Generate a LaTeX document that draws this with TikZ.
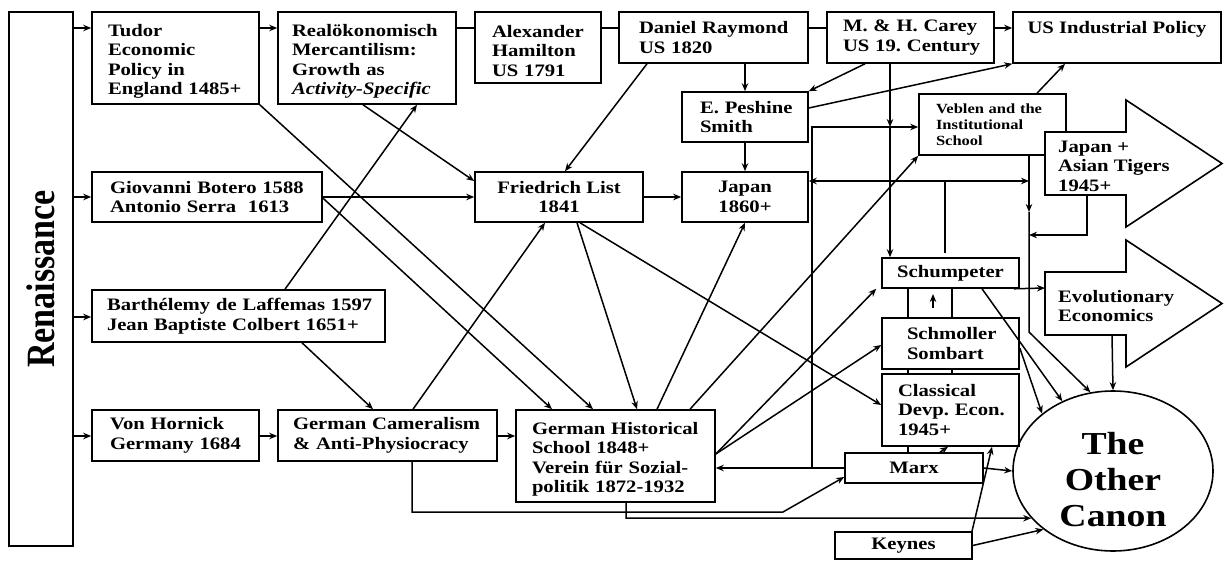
\documentclass[tikz,border=0pt]{standalone}
\usepackage{fontspec}
\setmainfont{Liberation Serif}[FakeStretch=1.18]
\newfontfamily\renfont{Liberation Serif}
\usetikzlibrary{arrows.meta,shapes.geometric}
\newcommand{\bxfont}{\fontsize{17.5}{19.5}\selectfont\bfseries\frenchspacing}
\newcommand{\vbfont}{\fontsize{14}{16}\selectfont\bfseries\frenchspacing}
\newcommand{\fl}{\rule{0pt}{19pt}}
\hyphenpenalty=10000
\exhyphenpenalty=10000
\frenchspacing
\begin{document}
\begin{tikzpicture}[x=1pt,y=-1pt,
  box/.style={draw, line width=1.6pt, fill=white, inner sep=0pt, font=\bxfont},
  lbox/.style={box, align=left},
  cbox/.style={box, align=center},
  arr/.style={line width=1.5pt, -{Stealth[length=8pt,width=6.5pt]}},
  ln/.style={line width=1.5pt},
  darr/.style={line width=1.5pt, {Stealth[length=8pt,width=6.5pt]}-{Stealth[length=8pt,width=6.5pt]}},
  blk/.style={draw, line width=1.6pt, fill=white},
  btxt/.style={font=\bxfont, align=left, inner sep=0pt, anchor=west}
]
\useasboundingbox (0,0) rectangle (1224,561);
\fill[white] (0,0) rectangle (1224,561);

% boxes
\node[box, minimum width=64pt, minimum height=534pt] (ren) at (41,279)
  {\rotatebox{90}{\scalebox{1}[1.18]{\renfont\bfseries\fontsize{34}{34}\selectfont Renaissance}}};
\node[lbox, minimum width=167pt, minimum height=92pt, text width=135pt] (tudor) at (175.5,58)
  {\mbox{\fl Tudor}\\\mbox{Economic}\\\mbox{Policy in}\\\mbox{England 1485+}};
\node[lbox, minimum width=178pt, minimum height=92pt, text width=150pt] (realok) at (367,58)
  {\mbox{\fl Realökonomisch}\\\mbox{Mercantilism:}\\\mbox{Growth as}\\\mbox{\textit{Activity-Specific}}};
\node[lbox, minimum width=126pt, minimum height=71pt, text width=92pt] (hamilton) at (538,47.5)
  {\mbox{\fl Alexander}\\\mbox{Hamilton}\\\mbox{US 1791}};
\node[lbox, minimum width=189pt, minimum height=51pt, text width=149pt] (daniel) at (713.5,37.5)
  {\mbox{Daniel Raymond}\\\mbox{US 1820}};
\node[lbox, minimum width=167pt, minimum height=51pt, text width=135pt] (carey) at (910.5,37.5)
  {\mbox{M. \& H. Carey}\\\mbox{US 19. Century}};
\node[cbox, minimum width=208pt, minimum height=51pt] (usind) at (1117,37.5)
  {US Industrial Policy\\~};
\node[lbox, minimum width=126pt, minimum height=50pt, text width=90pt] (peshine) at (745,117)
  {\mbox{E. Peshine}\\\mbox{Smith}};
\node[cbox, minimum width=126pt, minimum height=50pt] (japan) at (745,197)
  {Japan\\1860+};
\node[cbox, minimum width=168pt, minimum height=50pt] (list) at (559,197)
  {Friedrich List\\1841};
\node[lbox, minimum width=230pt, minimum height=50pt, text width=194pt] (botero) at (207,197)
  {\mbox{Giovanni Botero 1588}\\\mbox{Antonio Serra~~1613}};
\node[lbox, minimum width=293pt, minimum height=52pt, text width=263pt] (barth) at (238.5,316)
  {\mbox{Barthélemy de Laffemas 1597}\\\mbox{Jean Baptiste Colbert 1651+}};
\node[lbox, minimum width=167pt, minimum height=51pt, text width=131pt] (hornick) at (175.5,435.5)
  {\mbox{Von Hornick}\\\mbox{Germany 1684}};
\node[lbox, minimum width=219pt, minimum height=51pt, text width=189pt] (cam) at (387.5,435.5)
  {\mbox{German Cameralism}\\\mbox{\& Anti-Physiocracy}};
\node[lbox, minimum width=199pt, minimum height=92pt, text width=167pt] (ghs) at (615.5,456)
  {\mbox{\fl German Historical}\\\mbox{School 1848+}\\\mbox{Verein für Sozial-}\\\mbox{politik 1872-1932}};
\node[lbox, font=\vbfont, minimum width=147pt, minimum height=61pt, text width=113pt] (veblen) at (992.5,124.5)
  {\mbox{Veblen and the}\\\mbox{Institutional}\\\mbox{School}};
\node[cbox, minimum width=137pt, minimum height=30pt] (schump) at (950.5,273) {Schumpeter};
\node[lbox, minimum width=137pt, minimum height=51pt, text width=87pt] (schmoller) at (950.5,343.5)
  {\mbox{Schmoller}\\\mbox{Sombart}};
\node[lbox, minimum width=137pt, minimum height=72pt, text width=105pt] (classical) at (950.5,410)
  {\mbox{Classical}\\\mbox{Devp. Econ.}\\\mbox{1945+}};
\node[cbox, minimum width=138pt, minimum height=30pt] (marx) at (914,468) {Marx};
\node[cbox, minimum width=137pt, minimum height=27pt] (keynes) at (903.5,545.5) {Keynes};

% block arrows
\draw[blk] (1045,132) -- (1126,132) -- (1126,100) -- (1222,163.5) -- (1126,227) -- (1126,195) -- (1045,195) -- cycle;
\node[btxt] (jat) at (1058,166) {Japan +\\Asian Tigers\\1945+};
\draw[blk] (1045,272) -- (1126,272) -- (1126,240) -- (1222,303.5) -- (1126,367) -- (1126,335) -- (1045,335) -- cycle;
\node[btxt] (evol) at (1058,306) {Evolutionary\\Economics};

% the other canon
\node[draw, ellipse, line width=1.6pt, minimum width=200pt, minimum height=160pt, inner sep=0pt,
  align=center, font=\fontsize{32}{36}\selectfont\bfseries] (canon) at (1113,471)
  {\rule{0pt}{40pt}The\\Other\\Canon};

% helper coordinates
\coordinate (y28) at (0,28);
\coordinate (y197) at (0,197);
\coordinate (y317) at (0,317);
\coordinate (y436) at (0,436);
\coordinate (mj) at (812,468);
\coordinate (mv) at (812,127);
\coordinate (vr) at (1029,181);
\coordinate (sj) at (945,181);
\coordinate (sje) at (945,253);
\coordinate (cm) at (890,127);
\coordinate (vb) at (1029,155);
\coordinate (vm) at (1029,212);
\coordinate (vk) at (1029,332);
\coordinate (jb) at (1087,195);
\coordinate (jk) at (1087,235);
\coordinate (vj) at (1029,235);
\coordinate (eb) at (1112,335);
\coordinate (el) at (1045,288);
\coordinate (ua) at (933,308);
\coordinate (ub) at (933,294);
\coordinate (cb) at (412,512);
\coordinate (ck) at (783,512);
\coordinate (gb) at (626,518);

% Renaissance arrows
\draw[arr] (ren.east |- y28) -- (tudor.west |- y28);
\draw[arr] (ren.east |- y197) -- (botero.west |- y197);
\draw[arr] (ren.east |- y317) -- (barth.west |- y317);
\draw[arr] (ren.east |- y436) -- (hornick.west |- y436);

% top row
\draw[arr] (tudor.east |- y28) -- (realok.west |- y28);
\draw[ln] (realok.east |- y28) -- (hamilton.west |- y28);
\draw[ln] (hamilton.east |- y28) -- (daniel.west |- y28);
\draw[ln] (daniel.east |- y28) -- (carey.west |- y28);
\draw[arr] (carey.east |- y28) -- (usind.west |- y28);

% US branch
\draw[arr] (peshine.north |- daniel.south) -- (peshine.north);
\draw[arr] ([xshift=-45.5pt]carey.south) -- (peshine.north east);
\draw[arr] ([yshift=9pt]peshine.east) -- (usind.south west);
\draw[arr] (peshine.south) -- (japan.north);
\draw[arr] ([xshift=44.5pt]veblen.north) -- ([xshift=-52pt]usind.south);

% List and predecessors
\draw[arr] (list.east) -- (japan.west);
\draw[arr] (botero.east) -- (list.west);
\draw[arr] ([xshift=-66.5pt]daniel.south) -- ([xshift=6pt]list.north);
\draw[arr] ([xshift=-4pt]realok.south) -- ([yshift=16pt]list.west);
\draw[arr] ([xshift=46.5pt]barth.north) -- ([xshift=50pt]realok.south);
\draw[arr] (tudor.south east) -- ([xshift=-22.5pt]ghs.north);
\draw[arr] ([yshift=-1pt]botero.east) -- ([xshift=-63.5pt]ghs.north);
\draw[arr] ([xshift=63.5pt]barth.south) -- ([xshift=-14.5pt]cam.north);
\draw[arr] ([xshift=25.5pt]cam.north) -- ([xshift=-14pt]list.south);
\draw[arr] ([xshift=18pt]list.south) -- ([xshift=21.5pt]ghs.north);
\draw[arr] ([xshift=21pt]list.south) -- ([yshift=5pt]classical.west);

% bottom row
\draw[arr] (hornick.east |- y436) -- (cam.west |- y436);
\draw[arr] (cam.east |- y436) -- (ghs.west |- y436);

% from German Historical School
\draw[arr] ([xshift=41.5pt]ghs.north) -- (japan.south);
\draw[arr] ([xshift=74.5pt]ghs.north) -- (veblen.south west);
\draw[arr] ([yshift=2pt]ghs.east) -- ([xshift=-5pt]schump.south west);
\draw[arr] ([yshift=2pt]ghs.east) -- ([yshift=-1.5pt]schmoller.west);

% Marx links
\draw[ln] (marx.west) -- (mj);
\draw[arr] (mj) -- (ghs.east |- mj);
\draw[arr] (mj) -- (mv) -- (veblen.west |- mv);

% Japan double arrow and vertical lines
\draw[darr] ([yshift=16pt]japan.east) -- (vr);
\draw[ln] (sj) -- (sje);
\draw[arr] ([xshift=-20.5pt]carey.south) -- (cm);
\draw[arr] (cm) -- (schump.north -| cm);
\draw[arr] (vb) -- (vm);
\draw[arr] (vm) -- (vk) -- (canon.106);
\draw[arr] (jb) -- (jk) -- (vj);

% Schumpeter / Schmoller / Classical / Marx column
\draw[ln] ([xshift=-42.5pt]schump.south) -- ([xshift=-42.5pt]schmoller.north);
\draw[ln] ([xshift=1.5pt]schump.south) -- ([xshift=1.5pt]schmoller.north);
\draw[ln] ([xshift=-42.5pt]schmoller.south) -- ([xshift=-42.5pt]classical.north);
\draw[ln] ([xshift=1.5pt]schmoller.south) -- ([xshift=1.5pt]classical.north);
\draw[ln] ([xshift=-6pt]marx.north) -- ([xshift=-42.5pt]classical.south);
\draw[arr] (ua) -- (ub);
\draw[arr] ([xshift=-6pt]schump.south east) -- (el);
\draw[arr] ([xshift=26pt]marx.north) -- ([xshift=-2.5pt]classical.south);
\draw[arr] ([xshift=68.5pt]keynes.north) -- ([xshift=41.5pt]classical.south);

% into the other canon
\draw[arr] (eb) -- (canon.north);
\draw[arr] ([xshift=31.5pt]schump.south) -- (canon.126);
\draw[arr] ([yshift=-4.5pt]schmoller.east) -- (canon.141);
\draw[arr] (marx.east) -- (canon.180);
\draw[arr] (keynes.east) -- (canon.220);
\draw[arr] ([xshift=10.5pt]ghs.south) -- (gb) -- (canon.210);
\draw[arr] ([xshift=24.5pt]cam.south) -- (cb) -- (ck) -- ([yshift=-9pt]marx.west);
\end{tikzpicture}
\end{document}
